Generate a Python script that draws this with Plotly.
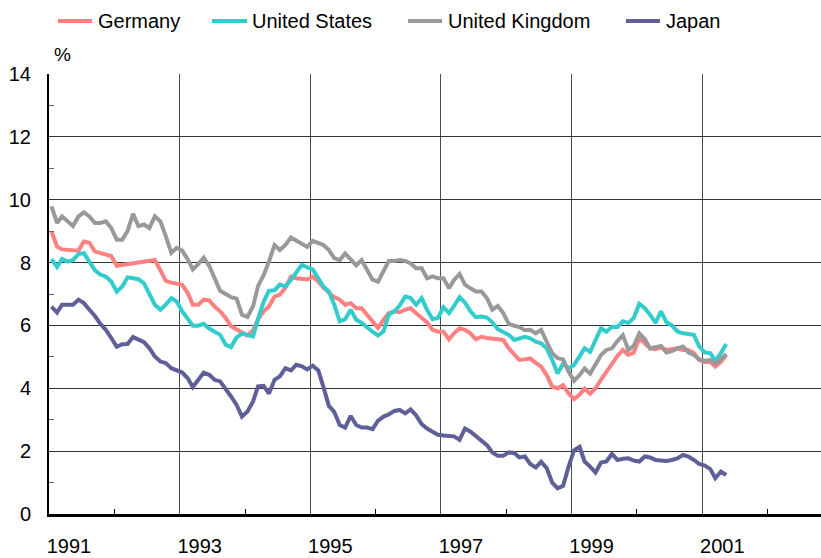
import pandas as pd
import plotly.graph_objects as go

# Monthly long-term interest rates, Jan 1991 - May 2001 (%)
start_month = "1991-01-01"
n_months = 125

germany = [8.99, 8.51, 8.42, 8.40, 8.40, 8.38, 8.67, 8.63, 8.35, 8.30, 8.28, 8.21,
           7.90, 7.93, 7.95, 7.98, 8.00, 8.03, 8.05, 8.08, 7.75, 7.42, 7.36, 7.34,
           7.29, 7.03, 6.66, 6.66, 6.82, 6.80, 6.60, 6.45, 6.24, 5.97, 5.88, 5.80,
           5.68, 5.85, 6.20, 6.45, 6.60, 6.92, 6.98, 7.20, 7.55, 7.50, 7.48, 7.46,
           7.55, 7.40, 7.20, 7.03, 6.90, 6.82, 6.66, 6.71, 6.55, 6.55, 6.34, 6.15,
           5.92, 6.18, 6.39, 6.45, 6.42, 6.50, 6.55, 6.39, 6.25, 6.10, 5.86, 5.80,
           5.80, 5.56, 5.75, 5.91, 5.86, 5.75, 5.56, 5.64, 5.60, 5.59, 5.56, 5.54,
           5.27, 5.06, 4.90, 4.92, 4.95, 4.81, 4.69, 4.42, 4.05, 4.00, 4.10, 3.84,
           3.66, 3.80, 3.99, 3.83, 4.00, 4.28, 4.53, 4.74, 5.03, 5.22, 5.06, 5.14,
           5.59, 5.43, 5.27, 5.24, 5.30, 5.22, 5.24, 5.27, 5.22, 5.22, 5.12, 4.90,
           4.84, 4.84, 4.69, 4.84, 5.06]

united_states = [8.11, 7.86, 8.11, 8.03, 8.08, 8.27, 8.30, 8.00, 7.75, 7.62, 7.55, 7.40,
                 7.08, 7.24, 7.53, 7.50, 7.47, 7.34, 7.03, 6.66, 6.50, 6.66, 6.87, 6.76,
                 6.45, 6.18, 5.99, 5.99, 6.05, 5.90, 5.81, 5.70, 5.39, 5.31, 5.62, 5.74,
                 5.70, 5.65, 6.20, 6.75, 7.10, 7.12, 7.30, 7.24, 7.45, 7.71, 7.93, 7.85,
                 7.78, 7.50, 7.24, 7.08, 6.66, 6.13, 6.20, 6.50, 6.18, 6.08, 5.92, 5.80,
                 5.68, 5.81, 6.34, 6.45, 6.63, 6.92, 6.87, 6.66, 6.87, 6.50, 6.20, 6.24,
                 6.58, 6.39, 6.62, 6.90, 6.73, 6.45, 6.26, 6.28, 6.25, 6.10, 5.88, 5.80,
                 5.70, 5.54, 5.59, 5.64, 5.59, 5.48, 5.43, 5.27, 4.90, 4.47, 4.79, 4.63,
                 4.74, 5.00, 5.27, 5.16, 5.54, 5.91, 5.80, 5.96, 5.95, 6.13, 6.08, 6.24,
                 6.69, 6.55, 6.34, 6.08, 6.45, 6.10, 6.00, 5.81, 5.75, 5.73, 5.70, 5.33,
                 5.14, 5.12, 4.88, 5.12, 5.41]

united_kingdom = [9.79, 9.26, 9.47, 9.31, 9.16, 9.47, 9.60, 9.47, 9.26, 9.26, 9.31, 9.10,
                  8.73, 8.73, 9.00, 9.55, 9.16, 9.21, 9.10, 9.47, 9.31, 8.84, 8.31, 8.47,
                  8.38, 8.10, 7.78, 7.95, 8.16, 7.89, 7.52, 7.10, 7.00, 6.90, 6.85, 6.34,
                  6.27, 6.61, 7.25, 7.60, 8.03, 8.56, 8.40, 8.56, 8.80, 8.71, 8.60, 8.50,
                  8.69, 8.63, 8.56, 8.40, 8.14, 8.08, 8.29, 8.10, 7.91, 8.08, 7.76, 7.46,
                  7.39, 7.76, 8.05, 8.05, 8.08, 8.05, 7.97, 7.82, 7.82, 7.50, 7.56, 7.50,
                  7.50, 7.18, 7.45, 7.64, 7.30, 7.18, 7.08, 7.08, 6.87, 6.50, 6.62, 6.39,
                  6.05, 5.99, 5.95, 5.85, 5.86, 5.75, 5.86, 5.48, 5.12, 4.96, 4.92, 4.53,
                  4.24, 4.42, 4.63, 4.47, 4.79, 5.06, 5.22, 5.27, 5.50, 5.69, 5.22, 5.35,
                  5.75, 5.56, 5.27, 5.31, 5.35, 5.14, 5.18, 5.27, 5.33, 5.14, 5.06, 4.92,
                  4.88, 4.90, 4.79, 4.92, 5.09]

japan = [6.60, 6.41, 6.66, 6.66, 6.66, 6.82, 6.71, 6.50, 6.30, 6.05, 5.86, 5.60,
         5.32, 5.40, 5.41, 5.63, 5.56, 5.47, 5.28, 5.01, 4.85, 4.80, 4.64, 4.58,
         4.50, 4.32, 4.04, 4.27, 4.50, 4.43, 4.27, 4.22, 4.00, 3.74, 3.47, 3.10,
         3.26, 3.58, 4.06, 4.08, 3.83, 4.27, 4.38, 4.64, 4.57, 4.75, 4.70, 4.60,
         4.72, 4.57, 4.05, 3.44, 3.25, 2.83, 2.75, 3.12, 2.83, 2.75, 2.75, 2.70,
         2.97, 3.10, 3.17, 3.28, 3.31, 3.20, 3.33, 3.14, 2.86, 2.72, 2.62, 2.52,
         2.50, 2.48, 2.47, 2.36, 2.72, 2.62, 2.49, 2.33, 2.19, 1.96, 1.85, 1.85,
         1.96, 1.94, 1.80, 1.83, 1.59, 1.48, 1.66, 1.46, 1.00, 0.82, 0.90, 1.50,
         2.03, 2.14, 1.67, 1.51, 1.32, 1.64, 1.67, 1.91, 1.72, 1.76, 1.77, 1.70,
         1.67, 1.83, 1.80, 1.72, 1.69, 1.69, 1.72, 1.77, 1.88, 1.83, 1.72, 1.59,
         1.54, 1.43, 1.14, 1.35, 1.24]

series_names = ["Germany", "United States", "United Kingdom", "Japan"]
series_colors = ["#FF8080", "#33CCCC", "#999999", "#606099"]

x_label_years = ["1991", "1993", "1995", "1997", "1999", "2001"]
x_minor_years = ["1992", "1994", "1996", "1998", "2000", "2002"]
y_ticks = [0, 2, 4, 6, 8, 10, 12, 14]
y_minor = [1, 3, 5, 7, 9, 11, 13]

months = pd.date_range(start_month, periods=n_months, freq="MS") + pd.Timedelta(days=14)

FONT = "Liberation Sans, Arial, sans-serif"
W, H = 821, 558
ML, MR, MT, MB = 49, 0, 74, 44
PW, PH = W - ML - MR, H - MT - MB


def px_x(px):
    return (px - ML) / PW


def px_y(py):
    return (H - MB - py) / PH


fig = go.Figure()
for name, vals, color in zip(series_names,
                             [germany, united_states, united_kingdom, japan],
                             series_colors):
    fig.add_trace(go.Scatter(x=months, y=vals, mode="lines", name=name,
                             line=dict(color=color, width=4), showlegend=False))

# manual legend, laid out as in the reference
legend_pos = [(58, 92, 96), (212, 247, 250), (408, 442, 446), (626, 660, 664)]
ly = px_y(21)
for (x0, x1, tx), name, color in zip(legend_pos, series_names, series_colors):
    fig.add_shape(type="line", xref="paper", yref="paper",
                  x0=px_x(x0), x1=px_x(x1), y0=ly, y1=ly,
                  line=dict(color=color, width=4))
    fig.add_annotation(xref="paper", yref="paper", x=px_x(tx), y=ly,
                       text=name, showarrow=False, xanchor="left", yanchor="middle",
                       font=dict(family=FONT, size=20, color="black"))

fig.add_annotation(xref="paper", yref="paper", x=px_x(62), y=px_y(55),
                   text="%", showarrow=False, xanchor="center", yanchor="middle",
                   font=dict(family=FONT, size=19, color="black"))

fig.update_layout(
    width=W, height=H,
    margin=dict(l=ML, r=MR, t=MT, b=MB, pad=0, autoexpand=False),
    paper_bgcolor="white", plot_bgcolor="white",
    font=dict(family=FONT, size=20, color="black"),
    showlegend=False,
    xaxis=dict(
        type="date", automargin=False,
        range=["1991-01-01", "2002-10-27"],
        tickmode="array",
        tickvals=[f"{y}-01-01" for y in x_label_years],
        ticktext=x_label_years,
        ticks="", ticklabelshift=20, ticklabelstandoff=12,
        showgrid=True, gridcolor="#4d4d4d", gridwidth=1,
        showline=True, linecolor="black", linewidth=2.5,
        zeroline=False,
        minor=dict(tickmode="array", tickvals=[f"{y}-01-01" for y in x_minor_years],
                   ticks="inside", ticklen=5, tickcolor="black", tickwidth=1,
                   showgrid=False),
        tickfont=dict(family=FONT, size=20, color="black"),
    ),
    yaxis=dict(
        range=[0, 14], automargin=False,
        tickmode="array", tickvals=y_ticks, ticktext=[str(v) for v in y_ticks],
        ticks="", ticklabelstandoff=12,
        showgrid=True, gridcolor="#333333", gridwidth=1.3,
        showline=True, linecolor="black", linewidth=2,
        zeroline=False,
        minor=dict(tickmode="array", tickvals=y_minor,
                   ticks="inside", ticklen=5, tickcolor="#666666", tickwidth=1,
                   showgrid=False),
        tickfont=dict(family=FONT, size=20, color="black"),
    ),
)

fig.write_html(
    "out.html",
    config={"displayModeBar": False},
    post_script="document.body.style.margin='0';document.body.style.overflow='hidden';",
)
